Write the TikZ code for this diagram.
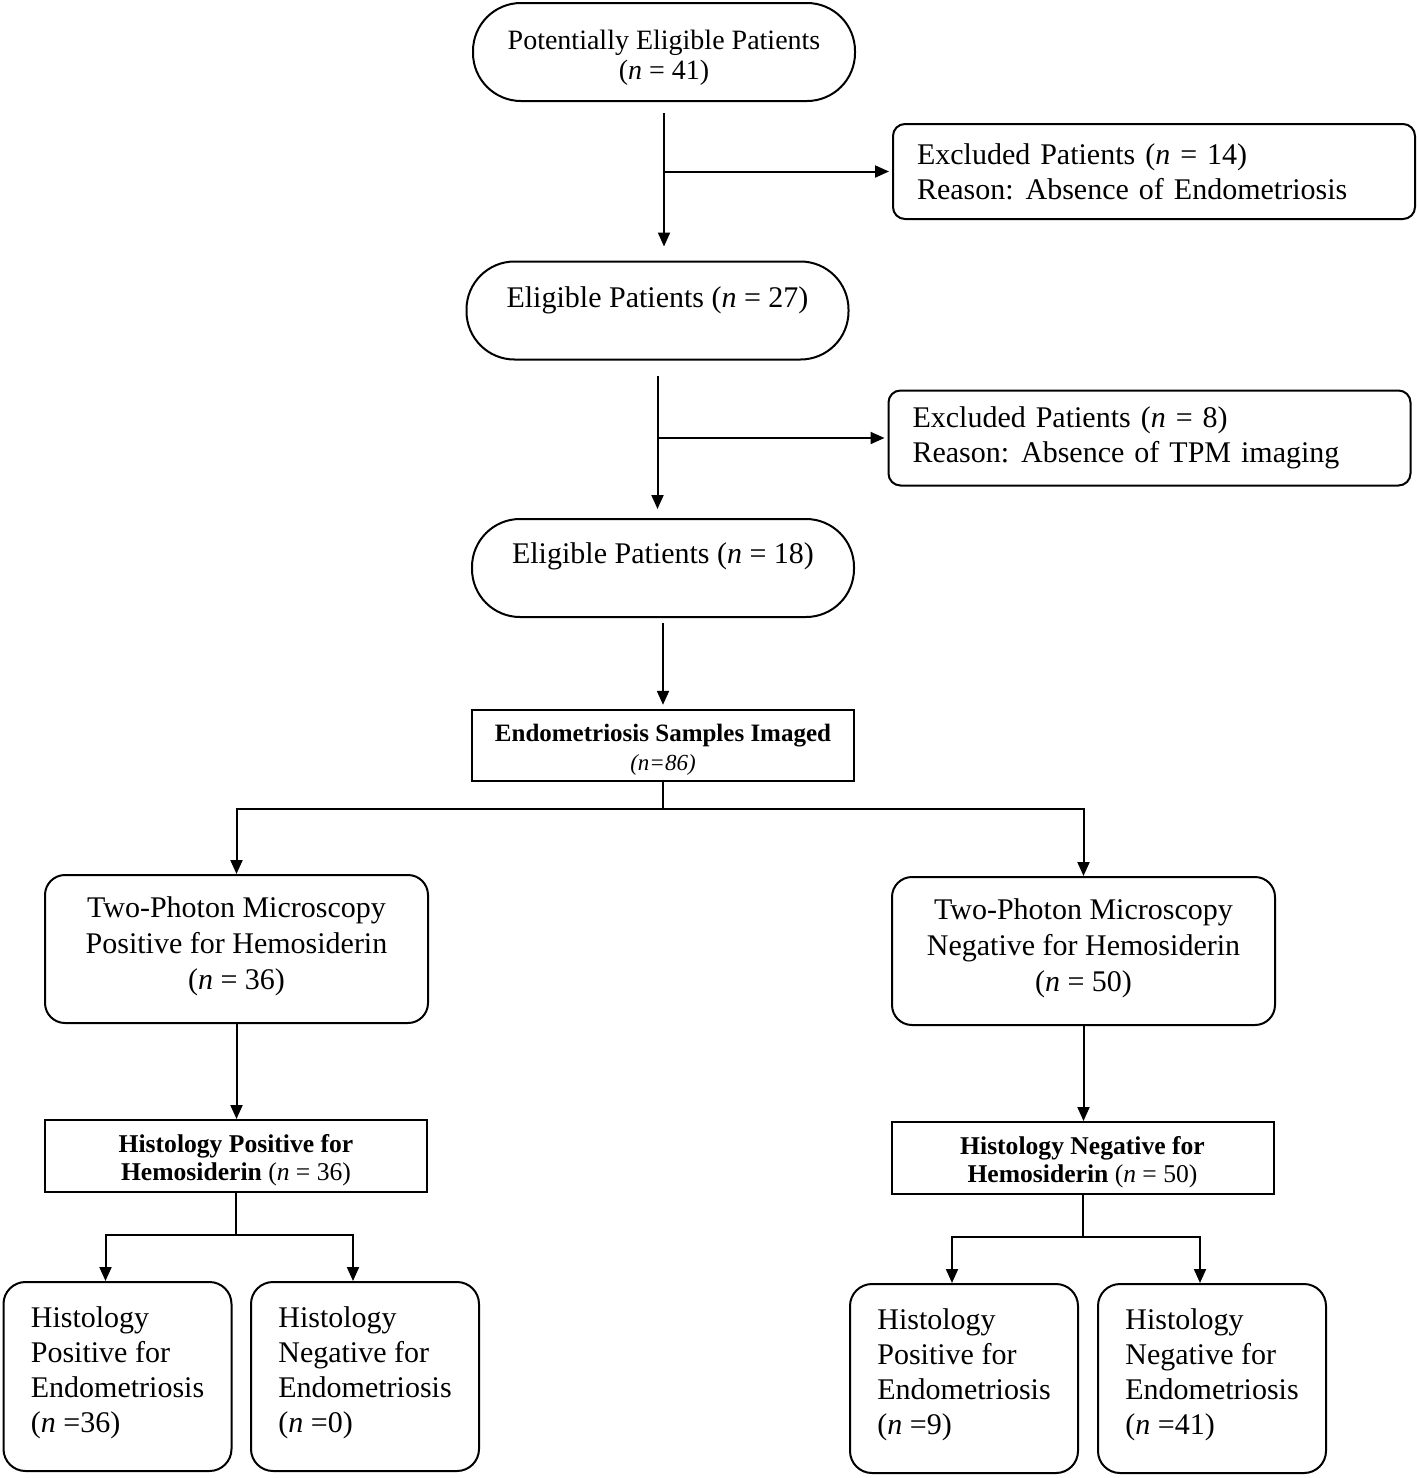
\documentclass[tikz,border=0pt]{standalone}
\usepackage{fontspec}
\setmainfont{Liberation Serif}
\usetikzlibrary{arrows.meta}
\newcommand{\nn}{\textit{n}}
\newcommand{\shiftc}[2]{\raisebox{#1}[\height][\depth]{\begin{tabular}{@{}c@{}}#2\end{tabular}}}
\newcommand{\shiftl}[2]{\raisebox{#1}[\height][\depth]{\begin{tabular}{@{}l@{}}#2\end{tabular}}}
\tikzset{
  every node/.style={line width=1pt, font=\fontsize{15}{17.5}\selectfont},
  stad/.style={draw, rounded corners=24pt, minimum width=191pt, minimum height=49pt, align=center},
  exclbox/.style={draw, rounded corners=6pt, text width=237pt, inner xsep=12pt, minimum height=47.5pt, align=left},
  tpmbox/.style={draw, rounded corners=10pt, minimum width=191.5pt, minimum height=74pt, align=center, font=\fontsize{15}{18}\selectfont},
  histbox/.style={draw, minimum width=191pt, minimum height=36pt, align=center, font=\fontsize{12.8}{14}\selectfont\bfseries},
  leafbox/.style={draw, rounded corners=11pt, minimum width=114pt, minimum height=94.5pt, align=left},
  arr/.style={-{Triangle[length=7pt,width=6pt]}}
}

\begin{document}
\begin{tikzpicture}[x=0.5pt, y=-0.5pt, line width=1pt]
\useasboundingbox (0,0) rectangle (1418,1478);

% patient selection
\node[stad, font=\fontsize{14}{15}\selectfont] (p0) at (664,52) {\shiftc{-3pt}{Potentially Eligible Patients\\(\nn{} = 41)}};
\node[exclbox] (x1) at (1154,171.5) {Excluded Patients (\nn{} = 14)\\Reason:\hspace{0.4em}Absence of Endometriosis};
\node[stad] (e27) at (657.5,310.5) {\shiftc{5pt}{Eligible Patients (\nn{} = 27)}};
\node[exclbox] (x2) at (1149.5,438) {Excluded Patients (\nn{} = 8)\\Reason:\hspace{0.4em}Absence of TPM imaging};
\node[stad] (e18) at (663,568) {\shiftc{6pt}{Eligible Patients (\nn{} = 18)}};

% samples
\node[draw, minimum width=191pt, minimum height=35.5pt, font=\fontsize{12.5}{14.5}\selectfont] (samp) at (663,745.5)
  {\shiftc{-2.5pt}{\textbf{Endometriosis Samples Imaged}\\{\fontsize{11.5}{14}\selectfont\itshape(n=86)}}};

% two-photon microscopy
\node[tpmbox] (tpos) at (236.5,949) {\shiftc{1.5pt}{Two-Photon Microscopy\\Positive for Hemosiderin\\(\nn{} = 36)}};
\node[tpmbox] (tneg) at (1083.5,951) {\shiftc{1.5pt}{Two-Photon Microscopy\\Negative for Hemosiderin\\(\nn{} = 50)}};

% histology for hemosiderin
\node[histbox] (hpos) at (236,1156) {\shiftc{-2.5pt}{Histology Positive for\\Hemosiderin {\normalfont(\nn{} = 36)}}};
\node[histbox] (hneg) at (1082.5,1158) {\shiftc{-2.5pt}{Histology Negative for\\Hemosiderin {\normalfont(\nn{} = 50)}}};

% histology for endometriosis
\node[leafbox] (l1) at (117.5,1376.5) {\shiftl{2pt}{Histology\\Positive for\\Endometriosis\\(\nn{} =36)}};
\node[leafbox] (l2) at (365,1376.5) {\shiftl{2pt}{Histology\\Negative for\\Endometriosis\\(\nn{} =0)}};
\node[leafbox] (r1) at (964,1378.5) {\shiftl{2pt}{Histology\\Positive for\\Endometriosis\\(\nn{} =9)}};
\node[leafbox] (r2) at (1212,1378.5) {\shiftl{2pt}{Histology\\Negative for\\Endometriosis\\(\nn{} =41)}};

% connectors
\draw[arr, shorten <=5.5pt, shorten >=7pt] (p0.south) -- (p0.south |- e27.north);
\coordinate (j1) at (p0.south |- x1.west);
\draw[arr, shorten >=1.5pt] (j1) -- (x1.west);
\draw[arr, shorten <=7.5pt, shorten >=4.5pt] (e27.south) -- (e27.south |- e18.north);
\coordinate (j2) at (e27.south |- x2.west);
\draw[arr, shorten >=1.5pt] (j2) -- (x2.west);
\draw[arr, shorten <=2.5pt, shorten >=2pt] (e18.south) -- (samp.north);

\draw (samp.south) -- ++(0,27) coordinate (f0);
\draw[arr] (f0) -| (tpos.north);
\draw[arr] (f0) -| (tneg.north);

\draw[arr] (tpos.south) -- (tpos.south |- hpos.north);
\draw[arr] (tneg.south) -- (tneg.south |- hneg.north);

\draw (hpos.south) -- ++(0,42) coordinate (f1);
\draw[arr] (f1) -| ([xshift=-6pt]l1.north);
\draw[arr] (f1) -| ([xshift=-6pt]l2.north);
\draw (hneg.south) -- ++(0,42) coordinate (f2);
\draw[arr] (f2) -| ([xshift=-6pt]r1.north);
\draw[arr] (f2) -| ([xshift=-6pt]r2.north);

\end{tikzpicture}
\end{document}
